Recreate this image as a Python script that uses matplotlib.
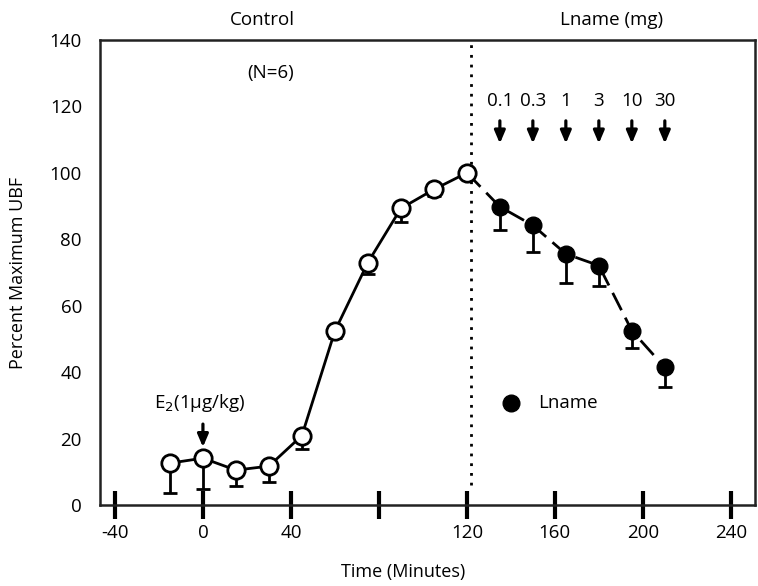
import numpy as np
import matplotlib
matplotlib.use("Agg")
import matplotlib.pyplot as plt

plt.rcParams['font.family'] = ['Open Sans', 'DejaVu Sans']

# Data
times_ctrl = [-15, 0, 15, 30, 45, 60, 75, 90, 105, 120]
ubf_ctrl = [12.6, 14.1, 10.5, 11.7, 20.9, 52.4, 73.0, 89.3, 95.0, 100.0]
err_ctrl = [9.1, 9.3, 4.8, 4.7, 4.0, 2.0, 3.6, 4.2, 2.0, 0.0]

times_lname = [135, 150, 165, 180, 195, 210]
ubf_lname = [89.8, 84.2, 75.6, 72.1, 52.5, 41.4]
err_lname = [7.0, 8.0, 8.8, 6.3, 5.3, 5.9]
dose_labels = ['0.1', '0.3', '1', '3', '10', '30']

xticks = [-40, 0, 40, 80, 120, 160, 200, 240]
xticklabels = ['-40', '0', '40', '', '120', '160', '200', '240']
yticks = [0, 20, 40, 60, 80, 100, 120, 140]

fig = plt.figure(figsize=(7.58, 5.86), dpi=100)
ax = fig.add_axes([100/758, 1 - 505/586, 655/758, 465/586])
ax.set_xlim(-46.8, 251)
ax.set_ylim(0, 140)

fs = 13.5

# control line + errorbars
ax.errorbar(times_ctrl, ubf_ctrl, yerr=[err_ctrl, np.zeros(len(err_ctrl))],
            fmt='none', ecolor='black', elinewidth=2, capsize=5, capthick=2, zorder=2)
ax.plot(times_ctrl, ubf_ctrl, '-', color='black', lw=2, zorder=1)
ax.plot(times_ctrl, ubf_ctrl, 'o', ms=12.5, mfc='white', mec='black', mew=2, ls='none', zorder=4)

# Lname dashed line
lx = np.concatenate([times_ctrl[-1:], times_lname])
ly = np.concatenate([ubf_ctrl[-1:], ubf_lname])
ax.plot(lx, ly, color='black', lw=2, ls=(0, (7, 3)), zorder=1)
ax.errorbar(times_lname, ubf_lname, yerr=[err_lname, np.zeros(len(err_lname))],
            fmt='none', ecolor='black', elinewidth=2, capsize=5, capthick=2, zorder=2)
ax.plot(times_lname, ubf_lname, 'o', ms=12, mfc='black', mec='black', ls='none', zorder=4)

# dotted vertical line
ax.plot([122, 122], [6, 139], color='black', lw=2, ls=(0, (1, 2.5)), zorder=0)

# dose arrows and labels
for t, lab in zip(times_lname, dose_labels):
    ax.annotate('', xy=(t, 108.0), xytext=(t, 116.5),
                arrowprops=dict(arrowstyle='-|>,head_length=0.75,head_width=0.32',
                                color='black', lw=2.3))
    ax.text(t, 121.5, lab, ha='center', va='center', fontsize=fs)

# E2 arrow
ax.annotate('', xy=(0, 16.6), xytext=(0, 25.2),
            arrowprops=dict(arrowstyle='-|>,head_length=0.75,head_width=0.32',
                            color='black', lw=2.3))
ax.text(-1.5, 30.7, r'E$_2$(1µg/kg)', ha='center', va='center', fontsize=fs)

ax.text(31, 130, '(N=6)', ha='center', va='center', fontsize=fs)

# legend
ax.plot([140], [30.8], 'o', ms=12, color='black', clip_on=False)
ax.text(152.5, 30.8, 'Lname', ha='left', va='center', fontsize=fs)

# top labels
ax.text(27, 145.9, 'Control', ha='center', va='center', fontsize=fs)
ax.text(186, 145.9, 'Lname (mg)', ha='center', va='center', fontsize=fs)

# axes styling
for s in ax.spines.values():
    s.set_linewidth(1.8)
    s.set_color('#222222')
ax.set_xticks(xticks)
ax.set_xticklabels(xticklabels, fontsize=fs)
ax.tick_params(axis='x', direction='inout', length=20, width=3, pad=4)
ax.set_yticks(yticks)
ax.set_yticklabels([str(v) for v in yticks], fontsize=fs)
ax.tick_params(axis='y', length=0, pad=13)
ax.set_yticks([140], minor=True)
ax.tick_params(axis='y', which='minor', length=14, width=2.5, direction='out')

ax.set_ylabel('Percent Maximum UBF', fontsize=fs - 0.5)
ax.yaxis.set_label_coords(-0.112, 0.5)
ax.set_xlabel('Time (Minutes)', fontsize=fs - 0.5)
ax.xaxis.set_label_coords((403 - 100) / 655, -(563 - 505) / 465)

fig.savefig('out.png', dpi=100)
